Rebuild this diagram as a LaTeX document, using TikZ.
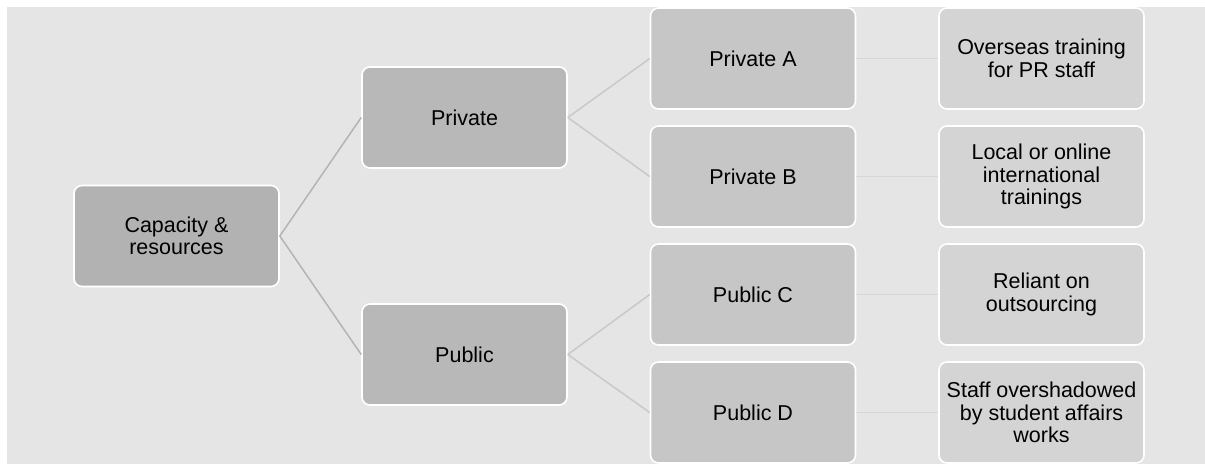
\documentclass[tikz,border=0pt]{standalone}
\usepackage{fontspec}
\setmainfont{Liberation Sans}
\definecolor{bgc}{HTML}{E5E5E5}
\definecolor{rootc}{HTML}{B2B2B2}
\definecolor{lvone}{HTML}{B8B8B8}
\definecolor{lvtwo}{HTML}{C6C6C6}
\definecolor{lvthree}{HTML}{D4D4D4}
\definecolor{linkone}{HTML}{B4B4B4}
\definecolor{linktwo}{HTML}{C9C9C9}
\definecolor{linkthree}{HTML}{D7D7D7}
\tikzset{
  treebox/.style={rectangle, rounded corners=8pt, draw=white, line width=1.6pt,
    minimum width=205pt, minimum height=101pt, inner sep=2pt, align=center,
    font=\fontsize{21.5}{22.5}\selectfont, text=black},
  rootbox/.style={treebox, fill=rootc},
  onebox/.style={treebox, fill=lvone},
  twobox/.style={treebox, fill=lvtwo},
  threebox/.style={treebox, fill=lvthree},
  linka/.style={draw=linkone, line width=1.5pt},
  linkb/.style={draw=linktwo, line width=1.5pt},
  linkc/.style={draw=linkthree, line width=1.5pt},
}
\begin{document}
\begin{tikzpicture}[x=1pt,y=-1pt]
\useasboundingbox (0,0) rectangle (1205,464);
\fill[bgc] (7,7) rectangle (1205,464);

\node[rootbox] (root) at (176.5,236) {Capacity \&\\resources};

\node[onebox] (priv) at (464.5,117.5) {Private};
\node[onebox] (pub)  at (464.5,354.5) {Public};

\node[twobox] (pa) at (753,58.5)  {Private A};
\node[twobox] (pb) at (753,176.5) {Private B};
\node[twobox] (pc) at (753,294.5) {Public C};
\node[twobox] (pd) at (753,412.5) {Public D};

\node[threebox] (ta) at (1041.5,58.5)  {Overseas training\\for PR staff};
\node[threebox] (tb) at (1041.5,176.5) {Local or online\\international\\trainings};
\node[threebox] (tc) at (1041.5,294.5) {Reliant on\\outsourcing};
\node[threebox] (td) at (1041.5,412.5) {Staff overshadowed\\by student affairs\\works};

\draw[linka] (root.east) -- (priv.west);
\draw[linka] (root.east) -- (pub.west);

\draw[linkb] (priv.east) -- (pa.west);
\draw[linkb] (priv.east) -- (pb.west);
\draw[linkb] (pub.east) -- (pc.west);
\draw[linkb] (pub.east) -- (pd.west);

\draw[linkc] (pa.east) -- (ta.west);
\draw[linkc] (pb.east) -- (tb.west);
\draw[linkc] (pc.east) -- (tc.west);
\draw[linkc] (pd.east) -- (td.west);
\end{tikzpicture}
\end{document}
